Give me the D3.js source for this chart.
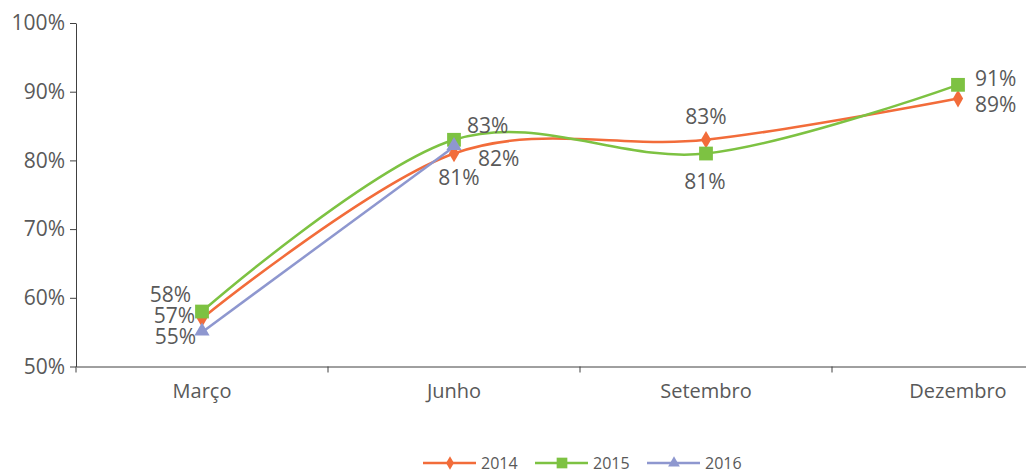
<!DOCTYPE html>
<html>
<head>
<meta charset="utf-8">
<script src="https://cdn.jsdelivr.net/npm/d3@7"></script>
<style>
  body { margin: 0; background: #fff; }
  text { font-family: "Open Sans", "Noto Sans", sans-serif; fill: #595959; }
</style>
</head>
<body>
<div id="chart"></div>
<script>
'use strict'

// data
const categories = ['Março', 'Junho', 'Setembro', 'Dezembro'];
const yTicks = [0.5, 0.6, 0.7, 0.8, 0.9, 1.0];
const values2014 = [0.57, 0.81, 0.83, 0.89];
const values2015 = [0.58, 0.83, 0.81, 0.91];
const values2016 = [0.55, 0.82];

// label placement relative to each point: [dx, dy, anchor]
const labelPos2014 = [[-7, 5, 'end'], [5, 31, 'middle'], [0, -16, 'middle'], [17, 13, 'start']];
const labelPos2015 = [[-11, -10, 'end'], [13, -7, 'start'], [-1, 35, 'middle'], [17, 1, 'start']];
const labelPos2016 = [[-6, 12, 'end'], [24, 19, 'start']];

const series = [
  {name: '2014', values: values2014, labels: labelPos2014, color: '#f26c3a', symbol: d3.symbolDiamond, size: 90, curve: true},
  {name: '2015', values: values2015, labels: labelPos2015, color: '#7dc242', symbol: d3.symbolSquare, size: 190, curve: true},
  {name: '2016', values: values2016, labels: labelPos2016, color: '#8e97cf', symbol: d3.symbolTriangle, size: 100, curve: false}
];

const W = 1026, H = 473;
const margin = {top: 23, left: 76, bottom: 106};
const band = 252;

let svg = d3.select('#chart').append('svg')
  .attr('width', W)
  .attr('height', H);

let x = d3.scaleBand()
  .domain(categories)
  .range([margin.left, margin.left + band * categories.length]);

let y = d3.scaleLinear()
  .domain([0.5, 1.0])
  .range([H - margin.bottom - 0.5, margin.top]);

let fmt = d3.format('.0%');
let cx = function(i) { return x(categories[i]) + x.bandwidth() / 2; };

// y axis
let yAxis = svg.append('g')
  .attr('transform', 'translate(' + margin.left + ',0)')
  .call(d3.axisLeft(y).tickValues(yTicks).tickFormat(fmt).tickSize(6).tickSizeOuter(0));
yAxis.select('.domain').attr('stroke', '#404040');
yAxis.selectAll('.tick line').attr('stroke', '#404040');
yAxis.selectAll('.tick text')
  .attr('x', -11)
  .style('font-size', '21px')
  .attr('fill', '#595959');

// x axis
let xAxis = svg.append('g')
  .attr('transform', 'translate(0,' + y(0.5) + ')')
  .call(d3.axisBottom(x).tickSize(0).tickSizeOuter(0));
xAxis.select('.domain').attr('stroke', '#404040');
xAxis.selectAll('.tick text')
  .attr('y', 17)
  .style('font-size', '20px')
  .attr('fill', '#595959');
// band boundary ticks
xAxis.selectAll('.bound')
  .data(d3.range(categories.length + 1))
  .enter().append('line')
  .attr('x1', function(i) { return margin.left + i * band; })
  .attr('x2', function(i) { return margin.left + i * band; })
  .attr('y1', 0)
  .attr('y2', 6)
  .attr('stroke', '#404040');

// lines
series.forEach(function(s) {
  let line = d3.line()
    .x(function(d, i) { return cx(i); })
    .y(function(d) { return y(d); })
    .curve(s.curve ? d3.curveCardinal.tension(0) : d3.curveLinear);
  svg.append('path')
    .datum(s.values)
    .attr('fill', 'none')
    .attr('stroke', s.color)
    .attr('stroke-width', 2.5)
    .attr('d', line);
});

// markers
series.forEach(function(s) {
  svg.selectAll(null)
    .data(s.values)
    .enter().append('path')
    .attr('transform', function(d, i) {
      return 'translate(' + cx(i) + ',' + y(d) + ')' + (s.symbol === d3.symbolTriangle ? ' translate(0,-1)' : '');
    })
    .attr('d', d3.symbol().type(s.symbol).size(s.size))
    .attr('fill', s.color);
});

// data labels
series.forEach(function(s) {
  svg.selectAll(null)
    .data(s.values)
    .enter().append('text')
    .attr('x', function(d, i) { return cx(i) + s.labels[i][0]; })
    .attr('y', function(d, i) { return y(d) + s.labels[i][1]; })
    .attr('text-anchor', function(d, i) { return s.labels[i][2]; })
    .style('font-size', '21px')
    .attr('fill', '#595959')
    .text(function(d) { return fmt(d); });
});

// legend
let legend = svg.append('g')
  .attr('transform', 'translate(423,463)');
let items = legend.selectAll('g')
  .data(series)
  .enter().append('g')
  .attr('transform', function(d, i) { return 'translate(' + (i * 112) + ',0)'; });
items.append('line')
  .attr('x1', 0).attr('x2', 53)
  .attr('y1', 0).attr('y2', 0)
  .attr('stroke', function(d) { return d.color; })
  .attr('stroke-width', 2.5);
items.append('path')
  .attr('transform', 'translate(27,0)')
  .attr('d', function(d) { return d3.symbol().type(d.symbol).size(d.size * 0.6)(); })
  .attr('fill', function(d) { return d.color; });
items.append('text')
  .attr('x', 58)
  .attr('y', 6)
  .style('font-size', '16px')
  .attr('fill', '#595959')
  .text(function(d) { return d.name; });
</script>
</body>
</html>
